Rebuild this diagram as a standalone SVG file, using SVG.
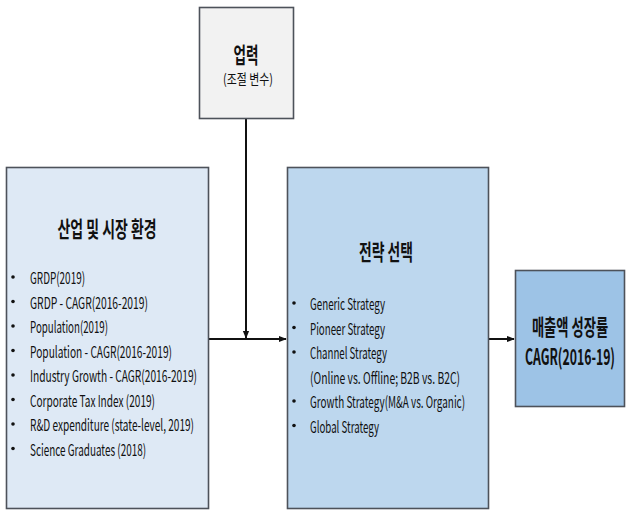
<svg xmlns="http://www.w3.org/2000/svg" width="630" height="511" viewBox="0 0 630 511">
<style>
.box{stroke:#4d525a;stroke-width:1.6}
.t{font-family:"Noto Sans CJK KR","Open Sans",sans-serif;fill:#111111}
.title{font-weight:bold;font-size:22px}
.item{font-size:16px}
.bul{fill:#111111}
.conn{stroke:#111111;stroke-width:2;fill:none}
</style>
<defs>
<marker id="ah" viewBox="0 0 10 10" refX="9" refY="5" markerWidth="4" markerHeight="4" orient="auto">
<path d="M0,1 L10,5 L0,9 z" fill="#111111"/>
</marker>
</defs>
<rect width="630" height="511" fill="#ffffff"/>
<g id="connectors">
<line class="conn" x1="209" y1="339" x2="286" y2="339" marker-end="url(#ah)"/>
<line class="conn" x1="246" y1="119" x2="246" y2="338" marker-end="url(#ah)"/>
<line class="conn" x1="489" y1="339" x2="514" y2="339" marker-end="url(#ah)"/>
</g>
<g id="node-upryeok">
<rect class="box" x="199.5" y="7.5" width="94" height="111" fill="#f2f2f2"/>
<text class="t title" x="246" y="53" text-anchor="middle" dominant-baseline="central" textLength="25" lengthAdjust="spacingAndGlyphs">업력</text>
<text class="t" x="248" y="78" font-size="14" text-anchor="middle" dominant-baseline="central" textLength="50" lengthAdjust="spacingAndGlyphs">(조절 변수)</text>
</g>
<g id="node-industry">
<rect class="box" x="6.5" y="167.5" width="202" height="341" fill="#dee9f5"/>
<text class="t title" x="107" y="227" text-anchor="middle" dominant-baseline="central" textLength="99" lengthAdjust="spacingAndGlyphs">산업 및 시장 환경</text>
<g class="bul">
<circle cx="13" cy="277" r="1.8"/><circle cx="13" cy="301.5" r="1.8"/><circle cx="13" cy="326" r="1.8"/><circle cx="13" cy="350.5" r="1.8"/>
<circle cx="13" cy="375" r="1.8"/><circle cx="13" cy="399.5" r="1.8"/><circle cx="13" cy="424" r="1.8"/><circle cx="13" cy="448.5" r="1.8"/>
</g>
<g class="t item" dominant-baseline="central">
<text x="30" y="277" textLength="55" lengthAdjust="spacingAndGlyphs">GRDP(2019)</text>
<text x="30" y="301.5" textLength="118" lengthAdjust="spacingAndGlyphs">GRDP - CAGR(2016-2019)</text>
<text x="30" y="326" textLength="78" lengthAdjust="spacingAndGlyphs">Population(2019)</text>
<text x="30" y="350.5" textLength="142" lengthAdjust="spacingAndGlyphs">Population - CAGR(2016-2019)</text>
<text x="30" y="375" textLength="167" lengthAdjust="spacingAndGlyphs">Industry Growth - CAGR(2016-2019)</text>
<text x="30" y="399.5" textLength="125" lengthAdjust="spacingAndGlyphs">Corporate Tax Index (2019)</text>
<text x="30" y="424" textLength="164" lengthAdjust="spacingAndGlyphs">R&amp;D expenditure (state-level, 2019)</text>
<text x="30" y="448.5" textLength="116" lengthAdjust="spacingAndGlyphs">Science Graduates (2018)</text>
</g>
</g>
<g id="node-strategy">
<rect class="box" x="287.5" y="167.5" width="201" height="341" fill="#bdd7ee"/>
<text class="t title" x="386" y="250" text-anchor="middle" dominant-baseline="central" textLength="54" lengthAdjust="spacingAndGlyphs">전략 선택</text>
<g class="bul">
<circle cx="294" cy="303" r="1.8"/><circle cx="294" cy="327.5" r="1.8"/><circle cx="294" cy="352" r="1.8"/>
<circle cx="294" cy="401" r="1.8"/><circle cx="294" cy="425.5" r="1.8"/>
</g>
<g class="t item" dominant-baseline="central">
<text x="310" y="303" textLength="75" lengthAdjust="spacingAndGlyphs">Generic Strategy</text>
<text x="310" y="327.5" textLength="75" lengthAdjust="spacingAndGlyphs">Pioneer Strategy</text>
<text x="310" y="352" textLength="77" lengthAdjust="spacingAndGlyphs">Channel Strategy</text>
<text x="310" y="376.5" textLength="150" lengthAdjust="spacingAndGlyphs">(Online vs. Offline; B2B vs. B2C)</text>
<text x="310" y="401" textLength="155" lengthAdjust="spacingAndGlyphs">Growth Strategy(M&amp;A vs. Organic)</text>
<text x="310" y="425.5" textLength="69" lengthAdjust="spacingAndGlyphs">Global Strategy</text>
</g>
</g>
<g id="node-sales">
<rect class="box" x="515.5" y="270.5" width="109" height="136" fill="#9dc3e6"/>
<text class="t title" transform="translate(570,325) scale(0.6,1)" x="0" y="0" text-anchor="middle" dominant-baseline="central" textLength="127" lengthAdjust="spacingAndGlyphs">매출액 성장률</text>
<text class="t title" transform="translate(570,355) scale(0.6,1)" x="0" y="0" text-anchor="middle" dominant-baseline="central" textLength="150" lengthAdjust="spacingAndGlyphs">CAGR(2016-19)</text>
</g>
</svg>
